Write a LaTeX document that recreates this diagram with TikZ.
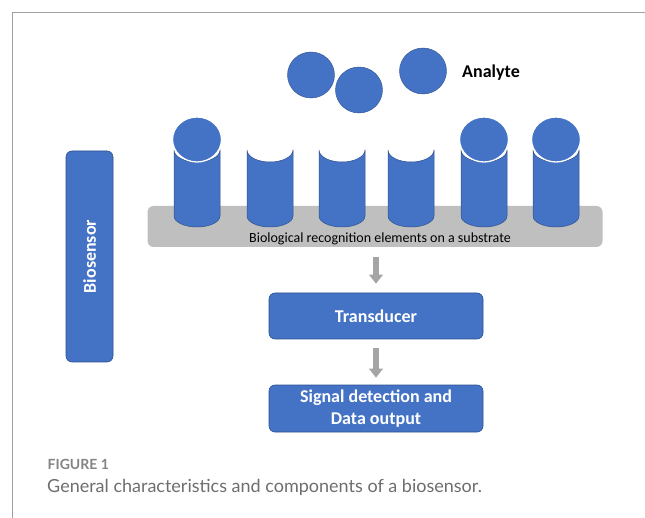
\documentclass[tikz,border=0pt]{standalone}
\usepackage{fontspec}
\setmainfont{Carlito}
\newfontfamily\capfont{Lato}
\usetikzlibrary{arrows.meta}
\definecolor{boxblue}{HTML}{4472C4}
\definecolor{edgeblue}{HTML}{2F528F}
\definecolor{subgray}{HTML}{BFBFBF}
\definecolor{arrowgray}{HTML}{A5A5A5}
\definecolor{framegray}{HTML}{A0A0A0}
\definecolor{capgray}{HTML}{6E6E6E}
\tikzset{
  bluebox/.style={draw=edgeblue, line width=0.6pt, fill=boxblue, rounded corners=6pt,
    text=white, font=\fontsize{18}{21.5}\selectfont\bfseries, align=center, inner sep=0pt},
  particle/.style={fill=boxblue, draw=edgeblue, line width=0.4pt},
  bound/.style={fill=boxblue, draw=white, line width=1.3pt},
  cylbody/.style={fill=boxblue, draw=edgeblue, line width=0.5pt},
  flowarrow/.style={draw=arrowgray, line width=5.5pt, -{Triangle[width=13.5pt,length=9pt]}}
}
\newcommand{\cylinder}[1]{%
  % body of a recognition element with a hollow (concave) top face
  \path[cylbody] (#1-23,150) -- (#1-23,216)
    arc[start angle=180, end angle=360, x radius=23pt, y radius=11pt]
    -- (#1+23,150)
    arc[start angle=0, end angle=-180, x radius=23pt, y radius=12pt] -- cycle;
}
\begin{document}
\begin{tikzpicture}[x=1pt, y=-1pt]
  \useasboundingbox (0,0) rectangle (645,518);
  \fill[white] (0,0) rectangle (645,518);

  % frame lines
  \draw[framegray, line width=1pt] (12.5,518) -- (12.5,12.5) -- (645,12.5);

  % free analyte particles
  \path[particle] (311,75) ellipse[x radius=23.5pt, y radius=23pt];
  \path[particle] (359,90) ellipse[x radius=23.5pt, y radius=23pt];
  \path[particle] (423,71) ellipse[x radius=23.5pt, y radius=23pt];
  \node[font=\fontsize{18}{20}\selectfont\bfseries, anchor=west, inner sep=0pt] (analyte) at (462,73) {Analyte};

  % biosensor bar
  \node[bluebox, rotate=90, minimum width=211pt, minimum height=47pt] (bio) at (89.5,256.5) {Biosensor};

  % substrate
  \node[fill=subgray, rounded corners=6pt, minimum width=455pt, minimum height=41pt, inner sep=0pt] (sub) at (375,226.5) {};

  % recognition elements
  \foreach \cx in {197,270,342,411,484,556} { \cylinder{\cx} }

  % bound analytes
  \foreach \cx in {197,484,556} {
    \path[bound] (\cx,139.5) ellipse[x radius=24.5pt, y radius=22.5pt];
  }

  \node[font=\fontsize{14}{16}\selectfont, inner sep=0pt] (sublabel) at (380,239) {Biological recognition elements on a substrate};

  % signal chain
  \node[bluebox, minimum width=214pt, minimum height=46pt] (tr) at (376,316) {Transducer};
  \node[bluebox, minimum width=214pt, minimum height=47pt] (sig) at (376,408.5) {Signal detection and\\Data output};

  \draw[flowarrow, shorten <=10pt, shorten >=9pt] (sub.south -| tr.north) -- (tr.north);
  \draw[flowarrow, shorten <=9pt, shorten >=7pt] (tr.south) -- (sig.north);

  % caption
  \node[font=\capfont\fontsize{14}{16}\selectfont\bfseries, text=capgray!85, anchor=base west, inner sep=0pt] (fig) at (47.5,469) {FIGURE 1};
  \node[font=\capfont\fontsize{18}{20}\selectfont, text=capgray, anchor=base west, inner sep=0pt] (cap) at (47,492) {General characteristics and components of a biosensor.};
\end{tikzpicture}
\end{document}
